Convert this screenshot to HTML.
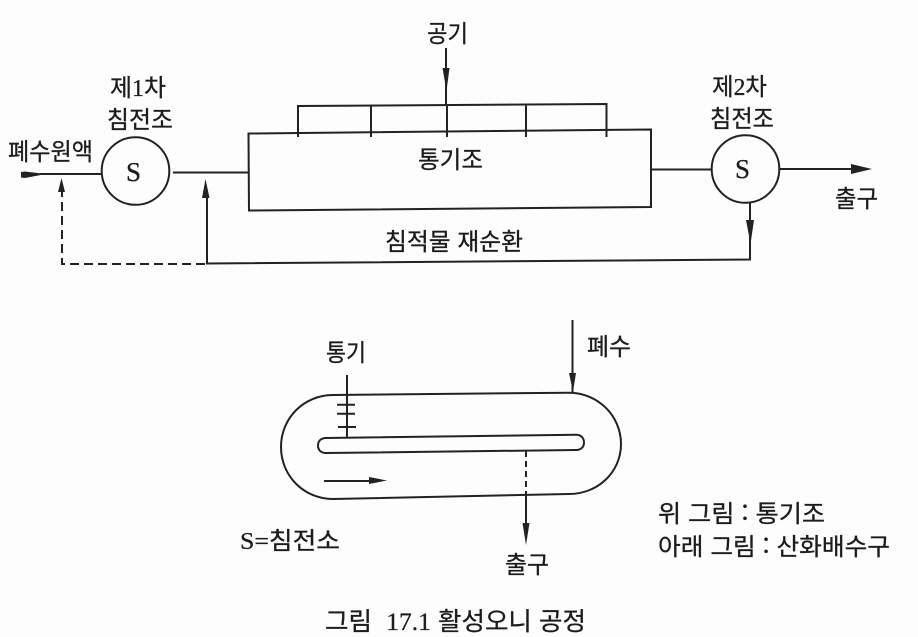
<!DOCTYPE html>
<html lang="ko">
<head>
<meta charset="utf-8">
<title>그림 17.1 활성오니 공정</title>
<style>
html,body{margin:0;padding:0;background:#fdfdfd;}
svg{display:block;}
text{font-family:"Noto Sans CJK KR",sans-serif;font-size:24px;fill:#1c1c1c;stroke:#1c1c1c;stroke-width:.3;}
.s,tspan.s{font-family:"Liberation Serif","Noto Serif CJK SC",serif;font-size:27px;}
tspan.d{font-family:"Liberation Serif",serif;}
.l{fill:none;stroke:#222;stroke-width:2;}
.h{fill:#222;stroke:none;}
</style>
</head>
<body>
<svg width="918" height="637" viewBox="0 0 918 637" xmlns="http://www.w3.org/2000/svg">
<rect width="918" height="637" fill="#fdfdfd"/>

<!-- top process -->
<circle class="l" cx="135.5" cy="171" r="33.8"/>
<circle class="l" cx="745.5" cy="169" r="33.8"/>
<path class="l" d="M248.5 133.5 L651 129.5 L651 207 L249 210.5 Z"/>
<path class="l" d="M298 137 V106 L606.5 104 V137 M371 105.5 V137 M447 105 V137 M526 104.5 V137"/>
<path class="l" d="M446 48 V105"/>
<path class="h" d="M442.5 68 H449.5 L446.5 91 Z"/>
<path class="l" d="M40 174 H101"/>
<path class="h" d="M21 172 L25 171.5 L46 174 L25 178 L21 177.5 Z"/>
<path class="l" d="M173 172.5 H248"/>
<path class="l" d="M651 169.5 H712"/>
<path class="l" d="M779 169 H855"/>
<path class="h" d="M851 164 L872 169 L851 174 Z"/>
<path class="l" d="M750 203 V259.5 L207 263.5 V190"/>
<path class="h" d="M746 220 H754 L750.5 244 Z"/>
<path class="h" d="M205.5 179 L209.5 198 H202 Z"/>
<path class="l" d="M205 264 H62 V190" stroke-dasharray="9 5"/>
<path class="h" d="M61.5 178 L65 192 H58 Z"/>

<!-- bottom process -->
<path class="l" d="M333 395 L569 392.7 C598 392.7 621 416 621 444 C621 472 598 494 569 494 L333 499 C304 499 281 476 281 447 C281 418 304 395 333 395 Z"/>
<path class="l" d="M326 438 L576 434.7 C581 434.7 584 438 584 442.5 C584 447 581 450 576 450 L326 453 C321 453 318 450 318 445.5 C318 441 321 438 326 438 Z"/>
<path class="l" d="M347 375 V438 M337 404.7 H355 M337 413.7 H355 M338 427 H356"/>
<path class="l" d="M572.5 320 V392"/>
<path class="h" d="M569 373 H576 L573 392 Z"/>
<path class="l" d="M526 451 V497" stroke-dasharray="6 4"/>
<path class="l" d="M526 497 V530"/>
<path class="h" d="M522.5 523 H529.5 L526 545 Z"/>
<path class="l" d="M324 481 H375"/>
<path class="h" d="M369 477 L387 480.5 L369 484 Z"/>

<!-- labels -->
<text x="427" y="42" textLength="41" lengthAdjust="spacingAndGlyphs">공기</text>
<text x="110" y="96" textLength="56" lengthAdjust="spacingAndGlyphs">제<tspan class="d">1</tspan>차</text>
<text x="107" y="128" textLength="66" lengthAdjust="spacingAndGlyphs">침전조</text>
<text x="8" y="160" textLength="85" lengthAdjust="spacingAndGlyphs">폐수원액</text>
<text class="s" x="126" y="181">S</text>
<text x="418" y="168" textLength="65" lengthAdjust="spacingAndGlyphs">통기조</text>
<text x="385" y="250" textLength="138" lengthAdjust="spacingAndGlyphs">침적물 재순환</text>
<text x="712" y="95" textLength="55" lengthAdjust="spacingAndGlyphs">제<tspan class="d">2</tspan>차</text>
<text x="710" y="127" textLength="64" lengthAdjust="spacingAndGlyphs">침전조</text>
<text class="s" x="735" y="178">S</text>
<text x="835" y="207" textLength="43" lengthAdjust="spacingAndGlyphs">출구</text>
<text x="326" y="361" textLength="40" lengthAdjust="spacingAndGlyphs">통기</text>
<text x="587" y="355" textLength="44" lengthAdjust="spacingAndGlyphs">폐수</text>
<text x="240" y="549" textLength="100" lengthAdjust="spacingAndGlyphs"><tspan class="s" style="font-size:24px">S=</tspan>침전소</text>
<text x="505" y="573" textLength="44" lengthAdjust="spacingAndGlyphs">출구</text>
<text x="658" y="522" textLength="167" lengthAdjust="spacingAndGlyphs">위 그림 : 통기조</text>
<text x="658" y="555" textLength="232" lengthAdjust="spacingAndGlyphs">아래 그림 : 산화배수구</text>
<text x="325" y="630" textLength="261" lengthAdjust="spacingAndGlyphs" style="font-size:25px">그림 &#160;<tspan class="d">17.1</tspan> 활성오니 공정</text>
</svg>
</body>
</html>
